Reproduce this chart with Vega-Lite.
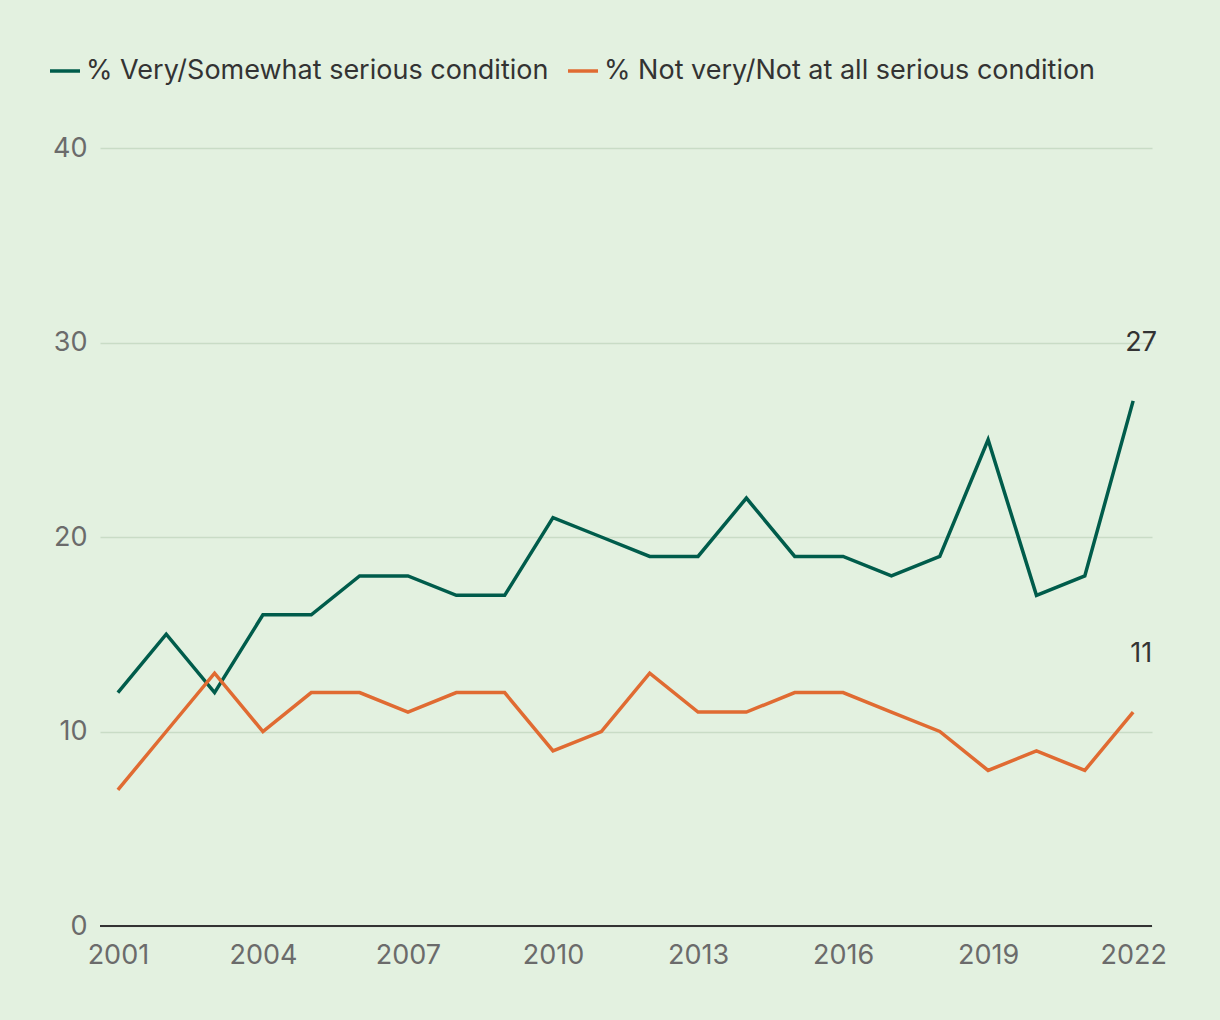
{
  "$schema": "https://vega.github.io/schema/vega-lite/v6.json",
  "autosize": "none",
  "width": 1052,
  "height": 778,
  "padding": {"left": 100, "top": 148, "right": 68, "bottom": 94},
  "background": "#e3f1e0",
  "config": {
    "font": "Inter",
    "view": {"stroke": null},
    "axis": {"labelFont": "Inter", "labelFontSize": 27, "labelColor": "#6b6b6b", "domain": false, "ticks": false, "title": null}
  },
  "data": {
    "values": [
      {"year": 2001, "series": "% Very/Somewhat serious condition", "value": 12},
      {"year": 2002, "series": "% Very/Somewhat serious condition", "value": 15},
      {"year": 2003, "series": "% Very/Somewhat serious condition", "value": 12},
      {"year": 2004, "series": "% Very/Somewhat serious condition", "value": 16},
      {"year": 2005, "series": "% Very/Somewhat serious condition", "value": 16},
      {"year": 2006, "series": "% Very/Somewhat serious condition", "value": 18},
      {"year": 2007, "series": "% Very/Somewhat serious condition", "value": 18},
      {"year": 2008, "series": "% Very/Somewhat serious condition", "value": 17},
      {"year": 2009, "series": "% Very/Somewhat serious condition", "value": 17},
      {"year": 2010, "series": "% Very/Somewhat serious condition", "value": 21},
      {"year": 2011, "series": "% Very/Somewhat serious condition", "value": 20},
      {"year": 2012, "series": "% Very/Somewhat serious condition", "value": 19},
      {"year": 2013, "series": "% Very/Somewhat serious condition", "value": 19},
      {"year": 2014, "series": "% Very/Somewhat serious condition", "value": 22},
      {"year": 2015, "series": "% Very/Somewhat serious condition", "value": 19},
      {"year": 2016, "series": "% Very/Somewhat serious condition", "value": 19},
      {"year": 2017, "series": "% Very/Somewhat serious condition", "value": 18},
      {"year": 2018, "series": "% Very/Somewhat serious condition", "value": 19},
      {"year": 2019, "series": "% Very/Somewhat serious condition", "value": 25},
      {"year": 2020, "series": "% Very/Somewhat serious condition", "value": 17},
      {"year": 2021, "series": "% Very/Somewhat serious condition", "value": 18},
      {"year": 2022, "series": "% Very/Somewhat serious condition", "value": 27, "label": "27"},
      {"year": 2001, "series": "% Not very/Not at all serious condition", "value": 7},
      {"year": 2002, "series": "% Not very/Not at all serious condition", "value": 10},
      {"year": 2003, "series": "% Not very/Not at all serious condition", "value": 13},
      {"year": 2004, "series": "% Not very/Not at all serious condition", "value": 10},
      {"year": 2005, "series": "% Not very/Not at all serious condition", "value": 12},
      {"year": 2006, "series": "% Not very/Not at all serious condition", "value": 12},
      {"year": 2007, "series": "% Not very/Not at all serious condition", "value": 11},
      {"year": 2008, "series": "% Not very/Not at all serious condition", "value": 12},
      {"year": 2009, "series": "% Not very/Not at all serious condition", "value": 12},
      {"year": 2010, "series": "% Not very/Not at all serious condition", "value": 9},
      {"year": 2011, "series": "% Not very/Not at all serious condition", "value": 10},
      {"year": 2012, "series": "% Not very/Not at all serious condition", "value": 13},
      {"year": 2013, "series": "% Not very/Not at all serious condition", "value": 11},
      {"year": 2014, "series": "% Not very/Not at all serious condition", "value": 11},
      {"year": 2015, "series": "% Not very/Not at all serious condition", "value": 12},
      {"year": 2016, "series": "% Not very/Not at all serious condition", "value": 12},
      {"year": 2017, "series": "% Not very/Not at all serious condition", "value": 11},
      {"year": 2018, "series": "% Not very/Not at all serious condition", "value": 10},
      {"year": 2019, "series": "% Not very/Not at all serious condition", "value": 8},
      {"year": 2020, "series": "% Not very/Not at all serious condition", "value": 9},
      {"year": 2021, "series": "% Not very/Not at all serious condition", "value": 8},
      {"year": 2022, "series": "% Not very/Not at all serious condition", "value": 11, "label": "11"}
    ]
  },
  "encoding": {
    "x": {
      "field": "year", "type": "quantitative",
      "scale": {"domain": [2000.63, 2022.39], "nice": false, "zero": false},
      "axis": {"values": [2001, 2004, 2007, 2010, 2013, 2016, 2019, 2022], "format": "d", "grid": false, "labelPadding": 16, "labelFlush": false}
    },
    "y": {
      "field": "value", "type": "quantitative",
      "scale": {"domain": [0, 40], "nice": false},
      "axis": {"values": [0, 10, 20, 30, 40], "grid": true, "gridColor": "#c9dcc6", "gridWidth": 1.5, "labelPadding": 13}
    }
  },
  "layer": [
    {
      "mark": {"type": "rule", "color": "#333333", "strokeWidth": 2},
      "data": {"values": [{"y": 0}]},
      "encoding": {"y": {"field": "y", "type": "quantitative"}, "x": null}
    },
    {
      "mark": {"type": "line", "strokeWidth": 3.5},
      "encoding": {
        "color": {
          "field": "series", "type": "nominal",
          "scale": {"domain": ["% Very/Somewhat serious condition", "% Not very/Not at all serious condition"], "range": ["#005c4b", "#e06b32"]},
          "legend": {
            "title": null, "orient": "none", "legendX": -52, "legendY": -94, "direction": "horizontal",
            "symbolType": "stroke", "symbolStrokeWidth": 3.5, "symbolSize": 900,
            "labelFont": "Inter", "labelFontSize": 27, "labelColor": "#333333", "columnPadding": 12, "labelOffset": 4, "labelLimit": 600
          }
        }
      }
    },
    {
      "mark": {"type": "text", "fontSize": 27, "color": "#333333", "dy": -58, "dx": 8, "font": "Inter"},
      "transform": [{"filter": "datum.label"}],
      "encoding": {"text": {"field": "label"}}
    }
  ]
}
